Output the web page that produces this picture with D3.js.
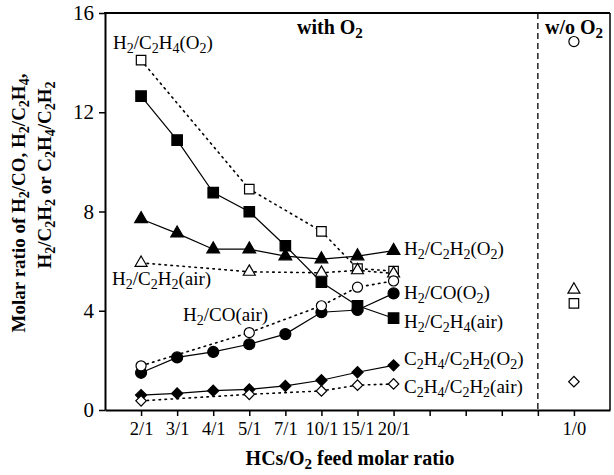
<!DOCTYPE html>
<html><head><meta charset="utf-8">
<script src="https://cdn.jsdelivr.net/npm/d3@7"></script>
<style>
body{margin:0;background:#fff}
text{font-family:"Liberation Serif","Times New Roman",serif;fill:#000}
</style></head>
<body><svg id="c" width="614" height="475"></svg>
<script>
// ---- data ----
const xTickLabels = ["2/1","3/1","4/1","5/1","7/1","10/1","15/1","20/1","","","","","1/0"];
const catsAll = ["2/1","3/1","4/1","5/1","7/1","10/1","15/1","20/1"];
const catsSub = ["2/1","5/1","10/1","15/1","20/1"];
const woCat = "1/0";
const yTicks = [0,4,8,12,16];

const h2c2h4_O2  = [14.1, 8.9, 7.2, 5.7, 5.6];
const h2c2h4_air = [12.65, 10.88, 8.76, 7.99, 6.62, 5.15, 4.2, 3.7];
const h2c2h2_O2  = [7.7, 7.12, 6.48, 6.48, 6.2, 6.08, 6.2, 6.42];
const h2c2h2_air = [5.93, 5.57, 5.53, 5.63, 5.5];
const h2co_O2    = [1.5, 2.12, 2.34, 2.65, 3.06, 3.94, 4.03, 4.7];
const h2co_air   = [1.78, 3.12, 4.2, 4.95, 5.2];
const c2_O2      = [0.6, 0.67, 0.78, 0.83, 0.97, 1.2, 1.52, 1.8];
const c2_air     = [0.37, 0.63, 0.77, 1.0, 1.05];
const wo_values  = {h2c2h4: 4.3, h2c2h2: 4.85, h2co: 14.85, c2: 1.14};

// ---- setup ----
const svg = d3.select("#c");
const pos = c => xTickLabels.indexOf(c) + 1;
const x = d3.scaleLinear().domain([0,14]).range([105,610]);
const y = d3.scaleLinear().domain([0,16]).range([410,13]);

function richText(sel, str, size, subSize){
  let i=0, buf="", parts=[];
  while(i<str.length){
    if(str[i]==="_"){ if(buf) parts.push([buf,false]); buf=""; parts.push([str[i+1],true]); i+=2; }
    else { buf+=str[i]; i++; }
  }
  if(buf) parts.push([buf,false]);
  let shifted=false;
  parts.forEach(([t,sub])=>{
    const ts = sel.append("tspan").text(t).attr("font-size", sub?subSize:size);
    if(sub && !shifted){ ts.attr("dy", 4); shifted=true; }
    else if(!sub && shifted){ ts.attr("dy", -4); shifted=false; }
  });
  return sel;
}

// axes
const yAxis = d3.axisLeft(y).tickValues(yTicks).tickSize(6).tickSizeOuter(0).tickPadding(5);
const gy = svg.append("g").attr("transform",`translate(${x(0)},0)`).call(yAxis);
gy.selectAll("text").attr("font-size",21).style("font-family",'"Liberation Serif",serif');
gy.select(".domain").attr("stroke-width",2);
gy.selectAll(".tick line").attr("stroke-width",1.5);

const xAxis = d3.axisBottom(x).tickValues(d3.range(1,14)).tickFormat(d=>xTickLabels[d-1])
  .tickSize(6).tickSizeOuter(0).tickPadding(6);
const gx = svg.append("g").attr("transform",`translate(0,${y(0)})`).call(xAxis);
gx.selectAll("text").attr("font-size",18.5).style("font-family",'"Liberation Serif",serif');
gx.select(".domain").attr("stroke-width",2);
gx.selectAll(".tick line").attr("stroke-width",1.5);

// frame
svg.append("line").attr("x1",x(0)-1).attr("x2",x(14)).attr("y1",y(16)).attr("y2",y(16)).attr("stroke","#000").attr("stroke-width",2);
svg.append("line").attr("x1",x(14)).attr("x2",x(14)).attr("y1",y(16)).attr("y2",y(0)).attr("stroke","#000").attr("stroke-width",1.5);
// separator
svg.append("line").attr("x1",x(12)).attr("x2",x(12)).attr("y1",y(16)).attr("y2",y(0))
  .attr("stroke","#000").attr("stroke-width",1.3).attr("stroke-dasharray","6,4");

// series
const series = [
  {cats:catsSub, vals:h2c2h4_O2, sym:d3.symbolSquare, size:90, fill:"#fff", dash:"1.5,4.5"},
  {cats:catsAll, vals:h2c2h4_air, sym:d3.symbolSquare, size:110, fill:"#000", dash:null},
  {cats:catsAll, vals:h2c2h2_O2, sym:d3.symbolTriangle, size:70, fill:"#000", dash:null},
  {cats:catsSub, vals:h2c2h2_air, sym:d3.symbolTriangle, size:62, fill:"#fff", dash:"1.5,4.5"},
  {cats:catsAll, vals:h2co_O2, sym:d3.symbolCircle, size:95, fill:"#000", dash:null},
  {cats:catsSub, vals:h2co_air, sym:d3.symbolCircle, size:80, fill:"#fff", dash:"1.5,4.5"},
  {cats:catsAll, vals:c2_O2, sym:d3.symbolSquare, size:62, fill:"#000", dash:null, rot:45},
  {cats:catsSub, vals:c2_air, sym:d3.symbolSquare, size:55, fill:"#fff", dash:"1.5,4.5", rot:45},
];
const line = d3.line().x(d=>x(pos(d[0]))).y(d=>y(d[1]));
series.forEach(s=>{
  const pts = s.cats.map((c,i)=>[c,s.vals[i]]);
  svg.append("path").attr("d",line(pts)).attr("fill","none").attr("stroke","#000")
    .attr("stroke-width", s.dash?1.6:1.2).attr("stroke-dasharray", s.dash)
    .attr("stroke-linecap", s.dash?"round":"butt");
});
series.forEach(s=>{
  const pts = s.cats.map((c,i)=>[c,s.vals[i]]);
  svg.append("g").selectAll("path").data(pts).join("path")
    .attr("d", d3.symbol().type(s.sym).size(s.size))
    .attr("transform", d=>`translate(${x(pos(d[0]))},${y(d[1])}) rotate(${s.rot||0})`)
    .attr("fill", s.fill).attr("stroke","#000").attr("stroke-width",1.2);
});
// w/o O2 points (open)
const woPts = [
  [wo_values.h2c2h4, d3.symbolSquare, 90, 0],
  [wo_values.h2c2h2, d3.symbolTriangle, 62, 0],
  [wo_values.h2co, d3.symbolCircle, 80, 0],
  [wo_values.c2, d3.symbolSquare, 55, 45],
];
svg.append("g").selectAll("path").data(woPts).join("path")
  .attr("d", d=>d3.symbol().type(d[1]).size(d[2])())
  .attr("transform", d=>`translate(${x(pos(woCat))},${y(d[0])}) rotate(${d[3]})`)
  .attr("fill","#fff").attr("stroke","#000").attr("stroke-width",1.2);

// series labels
const labels = [
  ["H_2/C_2H_4(O_2)", 113, 49],
  ["H_2/C_2H_2(air)", 112, 285],
  ["H_2/CO(air)", 183, 321],
  ["H_2/C_2H_2(O_2)", 404, 255],
  ["H_2/CO(O_2)", 404, 299],
  ["H_2/C_2H_4(air)", 404, 328],
  ["C_2H_4/C_2H_2(O_2)", 404, 365],
  ["C_2H_4/C_2H_2(air)", 404, 393],
];
labels.forEach(([t,lx,ly])=>{
  richText(svg.append("text").attr("x",lx).attr("y",ly), t, 19, 14);
});
richText(svg.append("text").attr("x",297).attr("y",34).attr("font-weight","bold"), "with O_2", 20, 15);
richText(svg.append("text").attr("x",545).attr("y",34).attr("font-weight","bold"), "w/o O_2", 20, 15);

// axis titles
richText(svg.append("text").attr("x",350).attr("y",465).attr("text-anchor","middle").attr("font-weight","bold"),
  "HCs/O_2 feed molar ratio", 20, 15);
richText(svg.append("text").attr("transform","translate(25,203) rotate(-90)").attr("text-anchor","middle").attr("font-weight","bold"),
  "Molar ratio of H_2/CO, H_2/C_2H_4,", 19, 14);
richText(svg.append("text").attr("transform","translate(51,175) rotate(-90)").attr("text-anchor","middle").attr("font-weight","bold"),
  "H_2/C_2H_2 or C_2H_4/C_2H_2", 19, 14);
</script></body></html>
